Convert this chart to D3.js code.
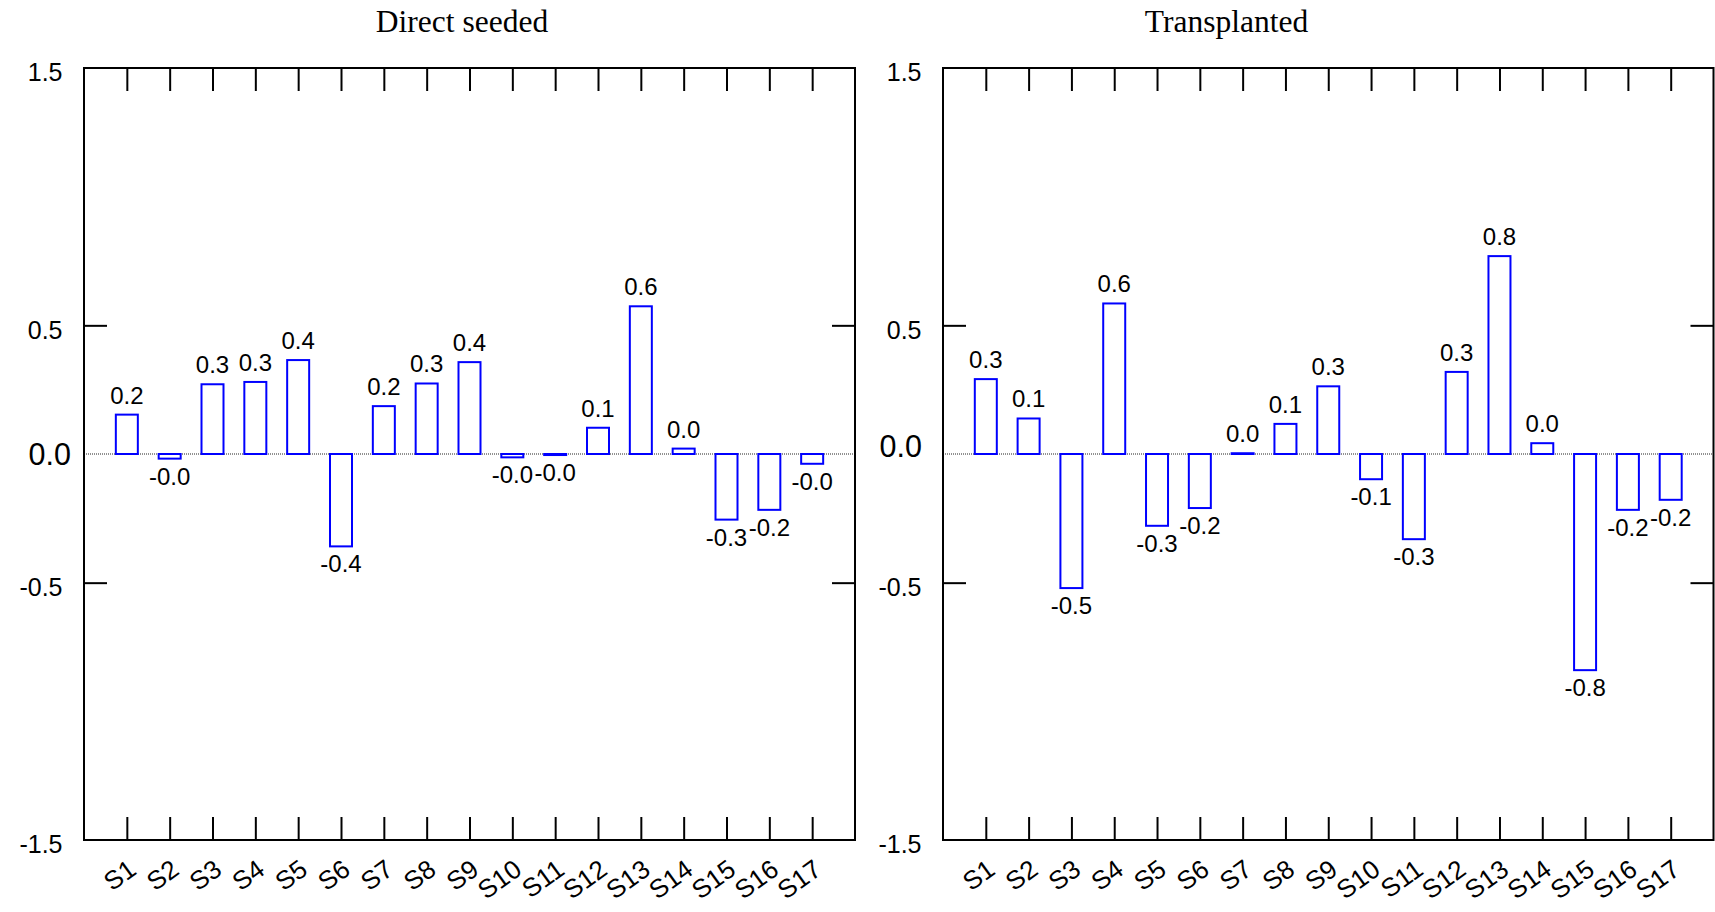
<!DOCTYPE html>
<html>
<head>
<meta charset="utf-8">
<script src="https://cdn.jsdelivr.net/npm/d3@7"></script>
<style>
  html, body { margin: 0; padding: 0; background: #fff; }
  svg { display: block; }
</style>
</head>
<body>
<svg id="chart" width="1715" height="912"></svg>
<script>
// Sites along the x axis
const categories = ["S1","S2","S3","S4","S5","S6","S7","S8","S9","S10","S11","S12","S13","S14","S15","S16","S17"];

// Values per site, one series per establishment method
const directSeeded = [0.153, -0.018, 0.271, 0.280, 0.365, -0.359, 0.186, 0.274, 0.357, -0.013, -0.004, 0.102, 0.574, 0.021, -0.255, -0.217, -0.038];
const transplanted = [0.291, 0.138, -0.521, 0.585, -0.279, -0.210, 0.003, 0.117, 0.263, -0.098, -0.331, 0.319, 0.769, 0.042, -0.840, -0.217, -0.178];

// Y axis ticks and panel titles
const yTicks = [1.5, 0.5, 0.0, -0.5, -1.5];
const yDomain = [-1.5, 1.5];
const panelTitles = ["Direct seeded", "Transplanted"];

const svg = d3.select("#chart");
svg.append("rect").attr("width", 1715).attr("height", 912).attr("fill", "#fff");

const panels = [
  { title: panelTitles[0], values: directSeeded, left: 84, right: 855, titleX: 462, zeroLabelEnd: 71, zeroLabelDy: 11 },
  { title: panelTitles[1], values: transplanted, left: 943, right: 1713.5, titleX: 1226.5, zeroLabelEnd: 922, zeroLabelDy: 3 }
];

const plotTop = 68, plotBottom = 840;
const y = d3.scaleLinear().domain(yDomain).range([plotBottom, plotTop]);
const fmt = v => v.toFixed(1);
const sansFont = "'Liberation Sans', Arial, sans-serif";
const serifFont = "'Liberation Serif', 'Times New Roman', serif";

panels.forEach(p => {
  const g = svg.append("g");
  const x = d3.scalePoint().domain(categories).range([p.left, p.right]).padding(1);
  const barW = 22;

  // title
  g.append("text")
    .attr("x", p.titleX).attr("y", 32)
    .attr("text-anchor", "middle")
    .attr("font-family", serifFont)
    .attr("font-size", 31.5)
    .attr("fill", "#000")
    .text(p.title);

  // dotted zero line
  g.append("line")
    .attr("x1", p.left).attr("x2", p.right)
    .attr("y1", y(0)).attr("y2", y(0))
    .attr("stroke", "#222").attr("stroke-width", 1)
    .attr("stroke-dasharray", "1,1");

  // bars
  g.selectAll("rect.bar")
    .data(p.values)
    .join("rect")
    .attr("class", "bar")
    .attr("x", (d, i) => x(categories[i]) - barW / 2)
    .attr("width", barW)
    .attr("y", d => y(Math.max(0, d)))
    .attr("height", d => Math.abs(y(d) - y(0)))
    .attr("fill", "#fff")
    .attr("stroke", "#0000ff")
    .attr("stroke-width", 2);

  // value labels
  g.selectAll("text.val")
    .data(p.values)
    .join("text")
    .attr("class", "val")
    .attr("x", (d, i) => x(categories[i]))
    .attr("y", d => d >= 0 ? y(d) - 11 : y(d) + 26)
    .attr("text-anchor", "middle")
    .attr("font-family", sansFont)
    .attr("font-size", 24)
    .attr("fill", "#000")
    .text(fmt);

  // inward x ticks, bottom and top
  const xb = g.append("g").attr("transform", `translate(0,${plotBottom})`)
    .call(d3.axisBottom(x).tickSize(-23).tickFormat(""));
  const xt = g.append("g").attr("transform", `translate(0,${plotTop})`)
    .call(d3.axisTop(x).tickSize(-23).tickFormat(""));
  [xb, xt].forEach(a => {
    a.select(".domain").remove();
    a.selectAll(".tick line").attr("stroke", "#000").attr("stroke-width", 2);
  });

  // inward y ticks on both sides (0.5 and -0.5)
  const inner = yTicks.filter(t => t !== 0 && Math.abs(t) !== 1.5);
  const yl = g.append("g").attr("transform", `translate(${p.left},0)`)
    .call(d3.axisLeft(y).tickValues(inner).tickSize(-23).tickFormat(""));
  const yr = g.append("g").attr("transform", `translate(${p.right},0)`)
    .call(d3.axisRight(y).tickValues(inner).tickSize(-23).tickFormat(""));
  [yl, yr].forEach(a => {
    a.select(".domain").remove();
    a.selectAll(".tick line").attr("stroke", "#000").attr("stroke-width", 2);
  });

  // y tick labels
  g.selectAll("text.ylab")
    .data(yTicks)
    .join("text")
    .attr("class", "ylab")
    .attr("x", d => d === 0 ? p.zeroLabelEnd : p.left - 21.5)
    .attr("y", d => d === 0 ? y(d) + p.zeroLabelDy : y(d) + 13.3)
    .attr("text-anchor", "end")
    .attr("font-family", sansFont)
    .attr("font-size", d => d === 0 ? 30.5 : 25)
    .attr("fill", "#000")
    .text(fmt);

  // rotated x labels
  g.selectAll("text.xlab")
    .data(categories)
    .join("text")
    .attr("class", "xlab")
    .attr("transform", d => `translate(${x(d) + 11},${plotBottom + 33}) rotate(-36)`)
    .attr("text-anchor", "end")
    .attr("font-family", sansFont)
    .attr("font-size", 26)
    .attr("fill", "#000")
    .text(d => d);

  // frame
  g.append("rect")
    .attr("x", p.left).attr("y", plotTop)
    .attr("width", p.right - p.left).attr("height", plotBottom - plotTop)
    .attr("fill", "none")
    .attr("stroke", "#000").attr("stroke-width", 2);
});
</script>
</body>
</html>
